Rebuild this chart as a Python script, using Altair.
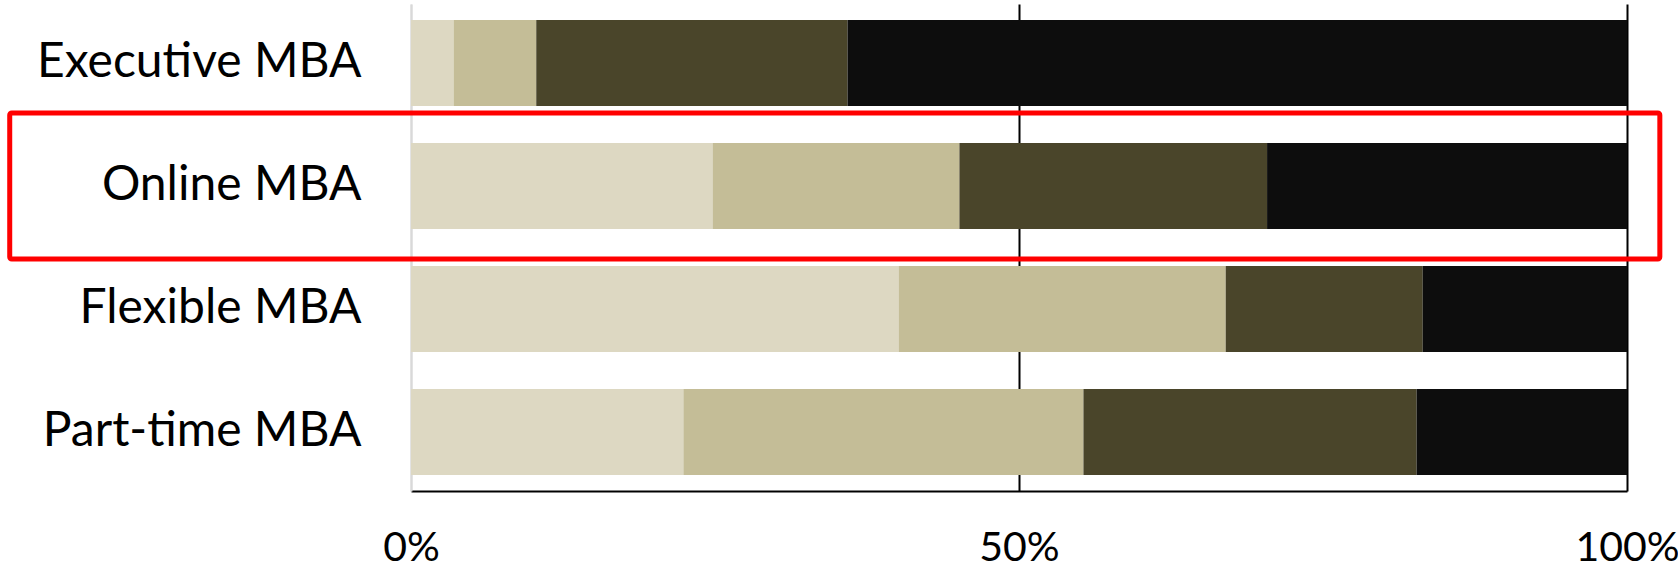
import altair as alt
import pandas as pd

programs = ["Executive MBA", "Online MBA", "Flexible MBA", "Part-time MBA"]
seg1 = [3.5, 24.8, 40.1, 22.4]
seg2 = [6.8, 20.3, 26.9, 32.9]
seg3 = [25.6, 25.3, 16.2, 27.4]
seg4 = [64.1, 29.6, 16.8, 17.3]
segment_names = ["s1", "s2", "s3", "s4"]
segment_colors = ["#DDD8C2", "#C4BD97", "#4A452A", "#0D0D0D"]
highlight_program = "Online MBA"
highlight_x = [-0.33, 1.027]
x_ticks = [0, 0.5, 1]

rows = []
for i, p in enumerate(programs):
    for k, (name, vals) in enumerate(zip(segment_names, [seg1, seg2, seg3, seg4])):
        rows.append({"program": p, "segment": name, "order": k, "value": vals[i]})
df = pd.DataFrame(rows)

box_df = pd.DataFrame({"program": [highlight_program], "x0": [highlight_x[0]], "x1": [highlight_x[1]]})

FONT = "Lato"

y_enc = alt.Y(
    "program:N",
    sort=programs,
    title=None,
    scale=alt.Scale(paddingInner=0.3, paddingOuter=0.13),
    axis=alt.Axis(
        domainColor="#D9D9D9", domainWidth=2, ticks=False,
        labelFontSize=48, labelFont=FONT, labelColor="#000000",
        labelPadding=50, labelLimit=600,
    ),
)

bars = alt.Chart(df).mark_bar(strokeWidth=0).encode(
    y=y_enc,
    x=alt.X(
        "value:Q",
        stack="normalize",
        title=None,
        scale=alt.Scale(domain=[0, 1], nice=False),
        axis=alt.Axis(
            values=x_ticks, format=".0%", ticks=False,
            domainColor="#000000", domainWidth=2,
            grid=True,
            gridColor=alt.condition("datum.value === 0", alt.value("#D9D9D9"), alt.value("#000000")),
            gridWidth=2,
            labelFontSize=41, labelFont=FONT, labelColor="#000000",
            labelPadding=37, labelFlush=False,
        ),
    ),
    color=alt.Color("segment:N", scale=alt.Scale(domain=segment_names, range=segment_colors), legend=None),
    order=alt.Order("order:Q"),
)

box = alt.Chart(box_df).mark_bar(
    height=146, fillOpacity=0, stroke="#FF0000", strokeWidth=5, cornerRadius=2
).encode(
    y=alt.Y("program:N", sort=programs),
    x="x0:Q",
    x2="x1:Q",
)

chart = alt.layer(bars, box).properties(
    width=1216,
    height=487,
    autosize="none",
    padding={"left": 411, "top": 4, "right": 51, "bottom": 74},
    background="#FFFFFF",
).configure_view(strokeWidth=0)

chart.save("out.html", embed_options={"renderer": "svg", "actions": False})
